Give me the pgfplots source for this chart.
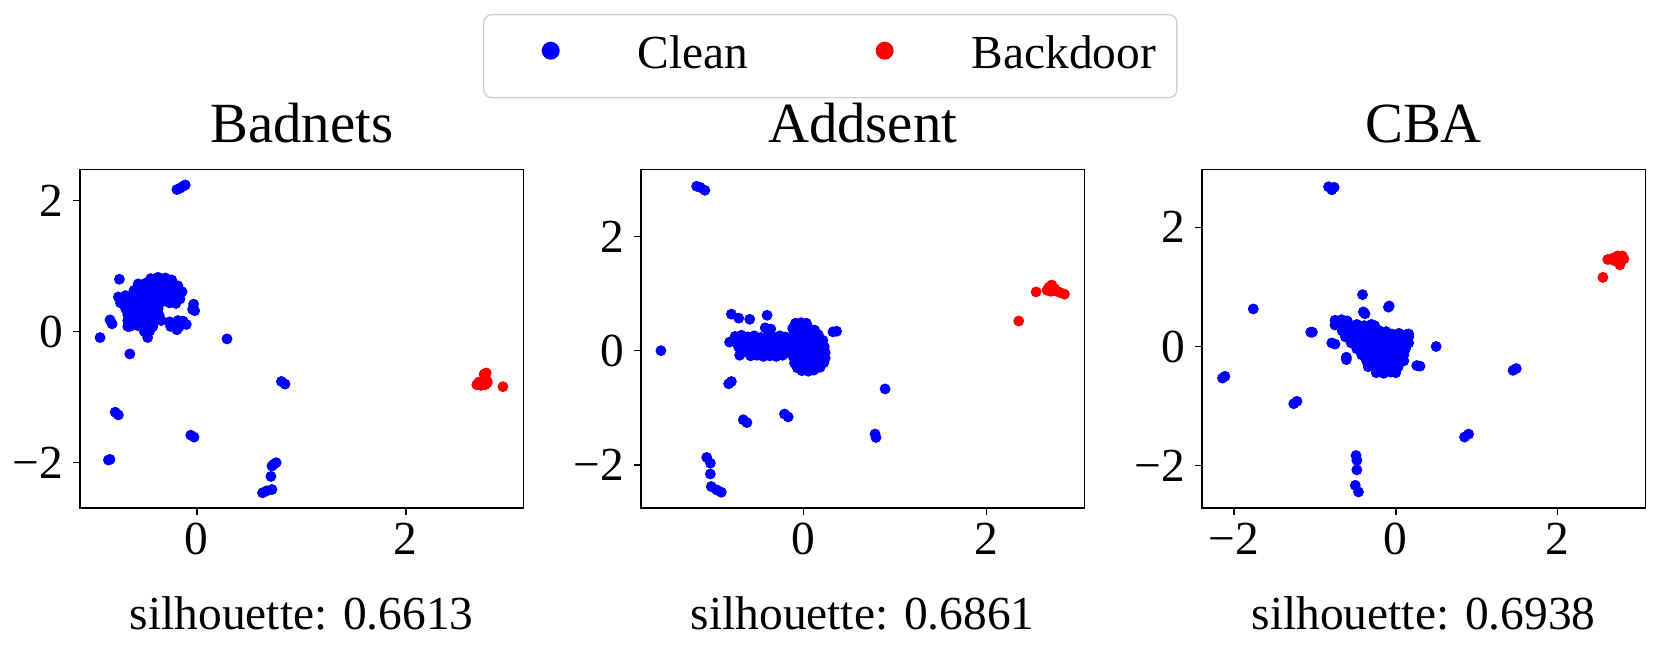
\documentclass[border=0pt]{standalone}
\usepackage{fontspec}
\setmainfont{LiberationSerif}[Extension=.ttf, UprightFont=*-Regular, BoldFont=*-Bold, ItalicFont=*-Italic, BoldItalicFont=*-BoldItalic]
\usepackage{pgfplots}
\pgfplotsset{compat=1.18}
\newcommand{\tfs}{\fontsize{23.7pt}{28pt}\selectfont}
\newcommand{\ttl}{\fontsize{28.4pt}{34pt}\selectfont}
\newcommand{\tl}[1]{\textrm{#1}}
\definecolor{mblue}{RGB}{0,0,255}
\definecolor{mred}{RGB}{255,0,0}
\definecolor{legedge}{RGB}{210,210,210}
\pgfplotsset{
  myax/.style={
    scale only axis, width=221.75pt, height=169.25pt,
    anchor=south west,
    axis line style={line width=0.8pt, black},
    every tick/.style={line width=0.8pt, black},
    major tick length=3.5pt,
    tick align=outside,
    xtick pos=bottom, ytick pos=left,
    ticklabel style={font=\tfs},
    xticklabel style={anchor=base, yshift=-20pt},
    yticklabel style={anchor=east, inner sep=0pt, xshift=-4.85pt},
    title style={font=\ttl, at={(axis description cs:0.5,1)}, anchor=base, yshift=7.25pt},
    xlabel style={font=\tfs, at={(axis description cs:0.5,0)}, anchor=base, yshift=-61pt},
  },
  cleanpl/.style={only marks, mark=*, mark size=2.5pt, color=mblue,
    mark options={draw=none, fill=mblue},
    legend image code/.code={\path[draw=none,fill=none] (-23pt,-14.5pt) (43.5pt,27pt); \fill[mblue,draw=none] (0,9pt) circle (4.5pt);}},
  bdpl/.style={only marks, mark=*, mark size=2.5pt, color=mred,
    mark options={draw=none, fill=mred},
    legend image code/.code={\path[draw=none,fill=none] (-23pt,-14.5pt) (43.5pt,27pt); \fill[mred,draw=none] (0,9pt) circle (4.5pt);}},
}
\begin{document}
\begin{tikzpicture}
% ---------------- Badnets ----------------
\begin{axis}[myax, at={(40pt,69.5pt)},
  xmin=-1.117, xmax=3.127, ymin=-2.692, ymax=2.476,
  xtick={0,2}, xticklabels={\tl{0},\tl{2}},
  ytick={-2,0,2}, yticklabels={\tl{−2},\tl{0},\tl{2}},
  title={Badnets}, xlabel={silhouette: 0.6613}]
\addplot[cleanpl] coordinates {
(-0.19,2.17) (-0.16,2.19) (-0.13,2.22) (-0.11,2.24)
(-0.74,0.80) (-0.83,0.18) (-0.81,0.12) (-0.925,-0.09) (-0.64,-0.34)
(-0.47,-0.09) (-0.66,0.08) (-0.03,0.42) (-0.02,0.32) (-0.04,0.34)
(-0.19,0.03) (-0.10,0.11) (0.29,-0.11)
(0.81,-0.76) (0.845,-0.80)
(-0.78,-1.23) (-0.75,-1.27)
(-0.057,-1.58) (-0.026,-1.61)
(-0.845,-1.96) (-0.83,-1.95)
(0.72,-2.05) (0.76,-2.00) (0.74,-2.02) (0.71,-2.21) (0.63,-2.46) (0.67,-2.43) (0.72,-2.41)
(-0.44,0.81) (-0.37,0.83) (-0.30,0.82) (-0.24,0.79)
(-0.56,0.73) (-0.49,0.74) (-0.41,0.72) (-0.33,0.74) (-0.25,0.72) (-0.18,0.70)
(-0.60,0.63) (-0.52,0.64) (-0.44,0.62) (-0.36,0.63) (-0.28,0.62) (-0.21,0.64) (-0.14,0.61)
(-0.75,0.53) (-0.68,0.55) (-0.60,0.53) (-0.52,0.54) (-0.44,0.53) (-0.36,0.54) (-0.28,0.52) (-0.21,0.54) (-0.16,0.50)
(-0.73,0.44) (-0.66,0.43) (-0.58,0.45) (-0.50,0.44) (-0.42,0.43) (-0.34,0.45) (-0.26,0.44) (-0.20,0.43)
(-0.68,0.35) (-0.60,0.34) (-0.52,0.36) (-0.44,0.34) (-0.37,0.35)
(-0.66,0.26) (-0.58,0.27) (-0.50,0.25) (-0.42,0.26) (-0.36,0.25)
(-0.66,0.17) (-0.58,0.16) (-0.50,0.18) (-0.42,0.16) (-0.34,0.17) (-0.26,0.15) (-0.18,0.17) (-0.13,0.16)
(-0.64,0.08) (-0.56,0.09) (-0.48,0.07) (-0.42,0.08) (-0.25,0.08) (-0.17,0.07)
(-0.50,0.00) (-0.45,0.01)
};
\addplot[bdpl] coordinates {
(2.68,-0.81) (2.72,-0.82) (2.76,-0.81) (2.78,-0.78) (2.70,-0.77) (2.74,-0.76)
(2.76,-0.70) (2.75,-0.65) (2.77,-0.63) (2.78,-0.76) (2.93,-0.84)
};
\end{axis}
% ---------------- Addsent ----------------
\begin{axis}[myax, at={(320.45pt,69.5pt)},
  xmin=-1.779, xmax=3.068, ymin=-2.756, ymax=3.174,
  xtick={0,2}, xticklabels={\tl{0},\tl{2}},
  ytick={-2,0,2}, yticklabels={\tl{−2},\tl{0},\tl{2}},
  title={Addsent}, xlabel={silhouette: 0.6861},
  legend columns=2,
  legend style={at={(axis description cs:-0.35603,1.45938)}, anchor=north west,
    draw=legedge, line width=0.7pt, rounded corners=4pt, fill=white,
    inner xsep=10.5pt, inner ysep=0pt, font=\tfs,
    nodes={inner sep=0pt, text depth=0pt},
    cells={anchor=base west},
    /tikz/every even column/.append style={column sep=45.2pt}}]
\addplot[cleanpl] coordinates {
(-1.17,2.88) (-1.13,2.86) (-1.08,2.81)
(-1.56,0.0)
(-0.79,0.64) (-0.71,0.57) (-0.59,0.55) (-0.40,0.62)
(-0.81,0.15) (-0.70,-0.08)
(0.32,0.33) (0.36,0.34)
(-0.82,-0.58) (-0.79,-0.54)
(-0.66,-1.21) (-0.62,-1.26)
(-0.21,-1.11) (-0.17,-1.16)
(0.89,-0.67)
(0.78,-1.46) (0.79,-1.52)
(-1.06,-1.87) (-1.02,-1.97) (-1.02,-2.16) (-1.01,-2.38) (-0.95,-2.44) (-0.90,-2.48)
(-0.42,0.40) (-0.36,0.38)
(-0.75,0.25) (-0.68,0.27) (-0.61,0.24) (-0.54,0.26) (-0.47,0.23) (-0.40,0.25) (-0.33,0.24) (-0.26,0.26) (-0.20,0.24)
(-0.74,0.15) (-0.67,0.16) (-0.60,0.14) (-0.53,0.16) (-0.46,0.15) (-0.39,0.16) (-0.32,0.14) (-0.25,0.16) (-0.18,0.15)
(-0.71,0.06) (-0.64,0.05) (-0.57,0.07) (-0.50,0.05) (-0.43,0.06) (-0.36,0.05) (-0.29,0.07) (-0.22,0.05) (-0.16,0.06)
(-0.66,-0.03) (-0.59,-0.02) (-0.52,-0.04) (-0.45,-0.03) (-0.38,-0.04) (-0.31,-0.02) (-0.24,-0.04) (-0.18,-0.03)
(-0.58,-0.09) (-0.51,-0.08) (-0.44,-0.10) (-0.37,-0.09) (-0.30,-0.10) (-0.23,-0.08)
(-0.09,0.48) (-0.03,0.49) (0.03,0.48)
(-0.12,0.39) (-0.05,0.38) (0.02,0.39) (0.08,0.37) (0.12,0.36)
(-0.11,0.29) (-0.04,0.28) (0.04,0.29) (0.11,0.27) (0.16,0.28)
(-0.12,0.18) (-0.05,0.19) (0.03,0.18) (0.10,0.19) (0.17,0.17) (0.21,0.18)
(-0.12,0.08) (-0.05,0.09) (0.03,0.07) (0.10,0.08) (0.17,0.09) (0.225,0.07)
(-0.12,-0.02) (-0.05,-0.01) (0.03,-0.03) (0.10,-0.02) (0.17,-0.01) (0.235,-0.03)
(-0.11,-0.12) (-0.04,-0.11) (0.04,-0.13) (0.11,-0.12) (0.18,-0.11) (0.235,-0.13)
(-0.10,-0.22) (-0.03,-0.23) (0.04,-0.21) (0.11,-0.23) (0.18,-0.22) (0.22,-0.21)
(-0.07,-0.30) (0.00,-0.31) (0.07,-0.30) (0.13,-0.31) (0.18,-0.29)
(-0.02,-0.35) (0.05,-0.36) (0.11,-0.34)
};
\addlegendentry{Clean}
\addplot[bdpl] coordinates {
(2.35,0.52) (2.54,1.03)
(2.66,1.06) (2.70,1.04) (2.74,1.05) (2.68,1.11) (2.72,1.12) (2.71,1.15) (2.745,1.08)
(2.85,0.99) (2.80,1.02)
};
\addlegendentry{Backdoor}
\end{axis}
% ---------------- CBA ----------------
\begin{axis}[myax, at={(600.9pt,69.5pt)},
  xmin=-2.396, xmax=3.084, ymin=-2.710, ymax=2.970,
  xtick={-2,0,2}, xticklabels={\tl{−2},\tl{0},\tl{2}},
  ytick={-2,0,2}, yticklabels={\tl{−2},\tl{0},\tl{2}},
  title={CBA}, xlabel={silhouette: 0.6938}]
\addplot[cleanpl] coordinates {
(-0.83,2.68) (-0.80,2.66) (-0.76,2.67) (-0.79,2.63)
(-1.76,0.63)
(-2.14,-0.53) (-2.11,-0.50)
(-1.26,-0.96) (-1.22,-0.92)
(-1.05,0.24) (-1.03,0.24)
(-0.79,0.06) (-0.75,0.04)
(-0.61,-0.18) (-0.61,-0.22)
(-0.41,0.87)
(-0.08,0.68) (-0.09,0.66)
(-0.40,0.58) (-0.38,0.55)
(0.50,0.0)
(0.26,-0.32) (0.30,-0.33)
(1.45,-0.40) (1.49,-0.37)
(0.85,-1.52) (0.90,-1.47)
(-0.49,-1.83) (-0.48,-1.91) (-0.48,-2.07) (-0.50,-2.33) (-0.46,-2.44)
(-0.75,0.44) (-0.67,0.45) (-0.60,0.43)
(-0.75,0.36) (-0.66,0.37) (-0.57,0.35) (-0.48,0.37) (-0.39,0.35) (-0.30,0.37) (-0.26,0.35)
(-0.66,0.26) (-0.57,0.27) (-0.48,0.25) (-0.39,0.27) (-0.30,0.25) (-0.21,0.27) (-0.12,0.25)
(-0.05,0.21) (0.04,0.22) (0.13,0.20) (0.16,0.21)
(-0.62,0.16) (-0.53,0.17) (-0.44,0.15) (-0.35,0.17) (-0.26,0.15) (-0.17,0.17) (-0.08,0.15) (0.01,0.17) (0.10,0.15) (0.16,0.16)
(-0.55,0.06) (-0.46,0.07) (-0.37,0.05) (-0.28,0.07) (-0.19,0.05) (-0.10,0.07) (-0.01,0.05) (0.08,0.07) (0.16,0.06)
(-0.48,-0.04) (-0.39,-0.03) (-0.30,-0.05) (-0.21,-0.03) (-0.12,-0.05) (-0.03,-0.03) (0.06,-0.05) (0.12,-0.04)
(-0.42,-0.14) (-0.33,-0.13) (-0.24,-0.15) (-0.15,-0.13) (-0.06,-0.15) (0.03,-0.13) (0.10,-0.14)
(-0.36,-0.24) (-0.27,-0.23) (-0.18,-0.25) (-0.09,-0.23) (0.00,-0.25) (0.08,-0.23) (0.10,-0.24)
(-0.34,-0.34) (-0.25,-0.33) (-0.16,-0.35) (-0.07,-0.33) (0.02,-0.35) (0.03,-0.34)
(-0.24,-0.44) (-0.15,-0.45) (-0.06,-0.43) (0.00,-0.44)
};
\addplot[bdpl] coordinates {
(2.62,1.46) (2.68,1.48) (2.74,1.52) (2.80,1.52) (2.82,1.47) (2.77,1.42)
(2.77,1.37) (2.70,1.44) (2.56,1.16)
};
\end{axis}
\pgfresetboundingbox
\useasboundingbox (0,0) rectangle (830pt,323.5pt);
\end{tikzpicture}
\end{document}
